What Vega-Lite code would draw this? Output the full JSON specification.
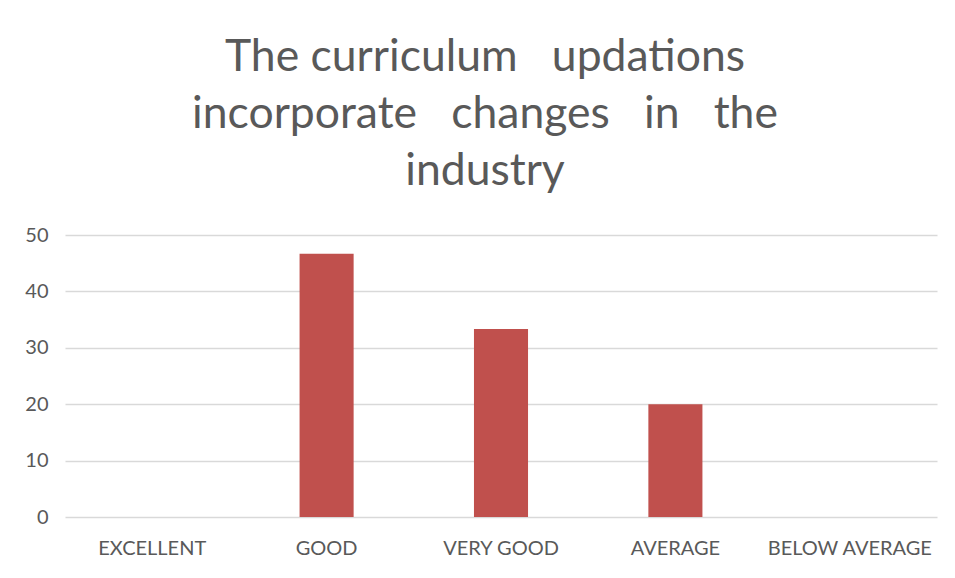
{
  "$schema": "https://vega.github.io/schema/vega-lite/v6.json",
  "width": 955,
  "height": 578,
  "autosize": {"type": "fit", "contains": "padding"},
  "padding": {"left": 24, "right": 18, "top": 34, "bottom": 20},
  "background": "white",
  "title": {
    "text": ["The curriculum \u00a0 updations", "incorporate \u00a0 changes \u00a0 in \u00a0 the", "industry"],
    "font": "Lato",
    "fontSize": 44.5,
    "fontWeight": "normal",
    "color": "#595959",
    "lineHeight": 57,
    "anchor": "middle",
    "dx": -16,
    "offset": 31
  },
  "data": {
    "values": [
      {"rating": "EXCELLENT", "value": 0},
      {"rating": "GOOD", "value": 46.67},
      {"rating": "VERY GOOD", "value": 33.33},
      {"rating": "AVERAGE", "value": 20},
      {"rating": "BELOW AVERAGE", "value": 0}
    ]
  },
  "mark": {"type": "bar", "color": "#C0504D"},
  "encoding": {
    "x": {
      "field": "rating",
      "type": "nominal",
      "sort": null,
      "scale": {"paddingInner": 0.69, "paddingOuter": 0.345},
      "axis": {
        "title": null,
        "labelAngle": 0,
        "labelFont": "Lato",
        "labelFontSize": 20,
        "labelColor": "#595959",
        "labelPadding": 21,
        "ticks": false,
        "domain": false,
        "grid": false
      }
    },
    "y": {
      "field": "value",
      "type": "quantitative",
      "scale": {"domain": [0, 50], "nice": false},
      "axis": {
        "title": null,
        "values": [0, 10, 20, 30, 40, 50],
        "labelFont": "Lato",
        "labelFontSize": 20,
        "labelColor": "#595959",
        "labelPadding": 17,
        "ticks": false,
        "domain": false,
        "gridColor": "#d9d9d9",
        "gridWidth": 1.5
      }
    }
  },
  "config": {"view": {"stroke": null}}
}
